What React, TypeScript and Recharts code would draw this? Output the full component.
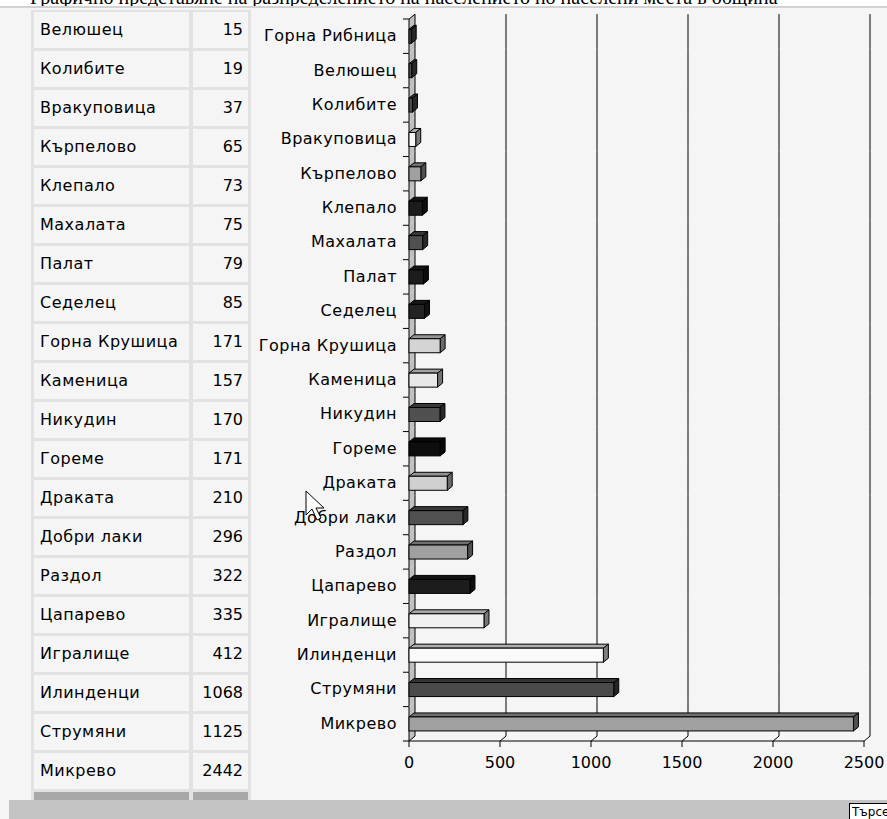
import { BarChart, Bar, XAxis, YAxis, Cell } from 'recharts'

const CATEGORIES = [
  'Горна Рибница', 'Велюшец', 'Колибите', 'Вракуповица', 'Кърпелово', 'Клепало', 'Махалата',
  'Палат', 'Седелец', 'Горна Крушица', 'Каменица', 'Никудин', 'Гореме', 'Драката',
  'Добри лаки', 'Раздол', 'Цапарево', 'Игралище', 'Илинденци', 'Струмяни', 'Микрево',
]
const VALUES = [12, 15, 19, 37, 65, 73, 75, 79, 85, 171, 157, 170, 171, 210, 296, 322, 335, 412, 1068, 1125, 2442]
const COLORS = [
  '#505050', '#505050', '#505050', '#f8f8f8', '#a0a0a0', '#1c1c1c', '#505050',
  '#1c1c1c', '#222222', '#d4d4d4', '#e8e8e8', '#505050', '#0e0e0e', '#d0d0d0',
  '#505050', '#a0a0a0', '#1c1c1c', '#f0f0f0', '#fafafa', '#4a4a4a', '#a0a0a0',
]
const X_TICKS = [0, 500, 1000, 1500, 2000, 2500]

const FONT = '"DejaVu Sans", sans-serif'
const FS = 16
const LS = 0.5
const CHART_W = 637
const CHART_H = 800
const M_TOP = 19
const M_RIGHT = 23
const X_AXIS_H = 59
const Y_AXIS_W = 159
const BAND = (CHART_H - M_TOP - X_AXIS_H) / CATEGORIES.length
// depth of the 3D walls and of the bars
const DX = 6
const DY = 5
const BDX = 5
const BDY = 4

const data = CATEGORIES.map((name, i) => ({ name, value: VALUES[i] }))

function shade(hex: string, f: number) {
  const n = parseInt(hex.slice(1), 16)
  const c = (v: number) => Math.round(v * f)
  return `rgb(${c((n >> 16) & 255)},${c((n >> 8) & 255)},${c(n & 255)})`
}

function Bar3D(props: any) {
  const { x, y, width, height, fill } = props
  if (!width || width <= 0) return null
  const top = `${x},${y} ${x + BDX},${y - BDY} ${x + width + BDX},${y - BDY} ${x + width},${y}`
  const side = `${x + width},${y} ${x + width + BDX},${y - BDY} ${x + width + BDX},${y + height - BDY} ${x + width},${y + height}`
  return (
    <g>
      <polygon points={top} fill={shade(fill, 0.7)} stroke="#000" strokeWidth={1} />
      <polygon points={side} fill={shade(fill, 0.5)} stroke="#000" strokeWidth={1} />
      <rect x={x} y={y} width={width} height={height} fill={fill} stroke="#000" strokeWidth={1} />
    </g>
  )
}

// left wall + back wall gridlines, drawn band by band behind the bars
function WallBand(props: any) {
  const { x, y, width, height, index } = props
  const mid = y + height / 2
  const bT = mid - BAND / 2
  const bB = mid + BAND / 2
  const last = index === CATEGORIES.length - 1
  const max = X_TICKS[X_TICKS.length - 1]
  const grid = X_TICKS.filter(v => v > 0).map(v => x + (width * v) / max)
  return (
    <g>
      <polygon
        points={`${x},${bT} ${x + DX},${bT - DY} ${x + DX},${bB - DY} ${x},${bB}`}
        fill="#c0c0c0"
        stroke="none"
      />
      <line x1={x} x2={x} y1={bT} y2={bB} stroke="#000" />
      <line x1={x + DX} x2={x + DX} y1={bT - DY} y2={bB - DY} stroke="#000" />
      {index === 0 && <line x1={x} x2={x + DX} y1={bT} y2={bT - DY} stroke="#000" />}
      {last && <line x1={x} x2={x + DX} y1={bB} y2={bB - DY} stroke="#000" />}
      {grid.map((gx, i) => (
        <g key={i}>
          <line x1={gx + DX} x2={gx + DX} y1={bT - DY} y2={bB - DY} stroke="#000" />
          {last && <line x1={gx} x2={gx + DX} y1={bB} y2={bB - DY} stroke="#000" />}
        </g>
      ))}
    </g>
  )
}

function CategoryTick(props: any) {
  const { x, y, payload, index } = props
  const last = index === CATEGORIES.length - 1
  return (
    <g>
      <text x={x} y={y} dy={5} textAnchor="end" fontFamily={FONT} fontSize={FS} letterSpacing={LS} fill="#000">
        {payload.value}
      </text>
      <line x1={x + 6} x2={x + 12} y1={y - BAND / 2} y2={y - BAND / 2} stroke="#000" />
      {last && <line x1={x + 6} x2={x + 12} y1={y + BAND / 2} y2={y + BAND / 2} stroke="#000" />}
    </g>
  )
}

function ValueTick(props: any) {
  const { x, y, payload } = props
  return (
    <text x={x} y={y} dy="0.71em" textAnchor="middle" fontFamily={FONT} fontSize={FS} fill="#000">
      {payload.value}
    </text>
  )
}

const ROW_H = 39
const TABLE_TOP = 12

export default function App() {
  const rows = CATEGORIES.slice(1)
  return (
    <div style={{ position: 'absolute', left: 0, top: 0, width: 887, height: 819, background: '#f5f5f5', overflow: 'hidden', fontFamily: FONT }}>
      <div style={{ position: 'absolute', left: 0, top: 0, width: 887, height: 6, background: '#fff', overflow: 'hidden', borderBottom: '2px solid #d2d2d2' }}>
        <div style={{ position: 'absolute', left: 30, top: -14, fontFamily: '"Liberation Serif", serif', fontSize: 20, whiteSpace: 'nowrap', color: '#000' }}>
          Графично представяне на разпределението на населението по населени места в община
        </div>
      </div>

      <div style={{ position: 'absolute', left: 31, top: TABLE_TOP - 2, width: 220, height: 800 - TABLE_TOP + 2, background: '#e2e2e2' }}>
        {rows.map((name, i) => (
          <div key={name}>
            <div style={{ position: 'absolute', left: 3, top: 2 + i * ROW_H, width: 155, height: ROW_H - 3, background: '#f5f5f5', fontSize: FS, letterSpacing: LS, lineHeight: `${ROW_H - 3}px`, paddingLeft: 6, boxSizing: 'border-box', whiteSpace: 'nowrap' }}>
              {name}
            </div>
            <div style={{ position: 'absolute', left: 162, top: 2 + i * ROW_H, width: 55, height: ROW_H - 3, background: '#f5f5f5', fontSize: FS, lineHeight: `${ROW_H - 3}px`, paddingRight: 5, boxSizing: 'border-box', textAlign: 'right' }}>
              {VALUES[i + 1]}
            </div>
          </div>
        ))}
        <div style={{ position: 'absolute', left: 3, top: 2 + rows.length * ROW_H, width: 155, height: 10, background: '#a8a8a8' }} />
        <div style={{ position: 'absolute', left: 162, top: 2 + rows.length * ROW_H, width: 55, height: 10, background: '#a8a8a8' }} />
      </div>

      <div style={{ position: 'absolute', left: 250, top: 0 }}>
        <BarChart
          width={CHART_W}
          height={CHART_H}
          layout="vertical"
          data={data}
          margin={{ top: M_TOP, right: M_RIGHT, bottom: 0, left: 0 }}
          barCategoryGap="30%"
        >
          <XAxis
            type="number"
            domain={[0, 2500]}
            ticks={X_TICKS}
            height={X_AXIS_H}
            axisLine={{ stroke: '#000' }}
            tickLine={{ stroke: '#000' }}
            tickSize={6}
            tickMargin={10}
            tick={<ValueTick />}
            interval={0}
          />
          <YAxis
            type="category"
            dataKey="name"
            width={Y_AXIS_W}
            axisLine={false}
            tickLine={false}
            tickSize={6}
            tickMargin={6}
            interval={0}
            tick={<CategoryTick />}
          />
          <Bar dataKey="value" isAnimationActive={false} shape={<Bar3D />} background={(p: any) => <WallBand {...p} />}>
            {data.map((d, i) => (
              <Cell key={d.name} fill={COLORS[i]} />
            ))}
          </Bar>
        </BarChart>
      </div>

      <svg style={{ position: 'absolute', left: 305, top: 490, pointerEvents: 'none' }} width={26} height={34}>
        <polygon points="1,1 1,25 7,19 12,30 16,28 11,18 19,18" fill="#fff" stroke="#000" strokeWidth={1} />
      </svg>

      <div style={{ position: 'absolute', left: 9, top: 800, width: 878, height: 19, background: '#c3c3c3' }} />
      <div style={{ position: 'absolute', left: 849, top: 803, width: 40, height: 17, background: '#fff', border: '1px solid #000', fontSize: 12, lineHeight: '16px', paddingLeft: 2, overflow: 'hidden', whiteSpace: 'nowrap', boxSizing: 'border-box' }}>
        Търсене
      </div>
    </div>
  )
}
